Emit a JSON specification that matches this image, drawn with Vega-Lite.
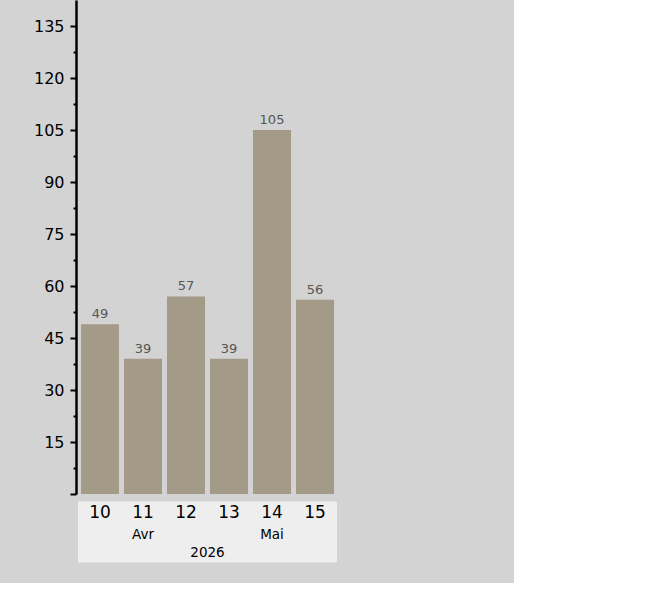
{
  "$schema": "https://vega.github.io/schema/vega-lite/v6.json",
  "background": "#d3d3d3",
  "padding": {"left": 33, "top": 0, "right": 175, "bottom": 20},
  "autosize": {"type": "pad"},
  "spacing": 6,
  "data": {
    "values": [
      {"day": "10", "month": "", "year": "2026", "count": 49},
      {"day": "11", "month": "Avr", "year": "2026", "count": 39},
      {"day": "12", "month": "", "year": "2026", "count": 57},
      {"day": "13", "month": "", "year": "2026", "count": 39},
      {"day": "14", "month": "Mai", "year": "2026", "count": 105},
      {"day": "15", "month": "", "year": "2026", "count": 56}
    ]
  },
  "vconcat": [
    {
      "width": 263,
      "height": 494,
      "encoding": {
        "x": {
          "field": "day",
          "type": "nominal",
          "scale": {"paddingInner": 0.116, "paddingOuter": 0.116},
          "axis": null
        },
        "y": {
          "field": "count",
          "type": "quantitative",
          "scale": {"domain": [0, 142.5], "nice": false},
          "axis": {
            "title": null,
            "grid": false,
            "values": [0, 7.5, 15, 22.5, 30, 37.5, 45, 52.5, 60, 67.5, 75, 82.5, 90, 97.5, 105, 112.5, 120, 127.5, 135],
            "labelExpr": "datum.value % 15 === 0 && datum.value > 0 ? datum.label : ''",
            "tickSize": {"condition": {"test": "datum.value % 15 === 0", "value": 6}, "value": 3},
            "tickWidth": 2,
            "tickColor": "#000000",
            "domainColor": "#000000",
            "domainWidth": 2.5,
            "labelFont": "DejaVu Sans",
            "labelFontSize": 16,
            "labelColor": "#000000",
            "labelPadding": 6
          }
        }
      },
      "layer": [
        {"mark": {"type": "bar", "color": "#a39a87"}},
        {
          "mark": {"type": "text", "baseline": "bottom", "dy": -3, "font": "DejaVu Sans", "fontSize": 13, "color": "#555555"},
          "encoding": {"text": {"field": "count", "type": "quantitative"}}
        }
      ]
    },
    {
      "width": 263,
      "height": 60,
      "encoding": {
        "x": {
          "field": "day",
          "type": "nominal",
          "scale": {"paddingInner": 0, "paddingOuter": 0.058},
          "axis": null
        }
      },
      "layer": [
        {"mark": {"type": "bar", "color": "#eeeeee", "stroke": "#eeeeee", "strokeWidth": 1}},
        {
          "mark": {"type": "text", "baseline": "middle", "dy": -19, "font": "DejaVu Sans", "fontSize": 17, "color": "#000000"},
          "encoding": {"text": {"field": "day", "type": "nominal"}}
        },
        {
          "transform": [{"filter": "datum.month !== ''"}],
          "mark": {"type": "text", "baseline": "middle", "dy": 3, "font": "DejaVu Sans", "fontSize": 13.5, "color": "#000000"},
          "encoding": {"text": {"field": "month", "type": "nominal"}}
        },
        {
          "transform": [{"aggregate": [{"op": "max", "field": "year", "as": "year"}]}],
          "mark": {"type": "text", "baseline": "middle", "dy": 21, "font": "DejaVu Sans", "fontSize": 13.5, "color": "#000000"},
          "encoding": {"x": {"value": {"expr": "width / 2"}}, "text": {"field": "year", "type": "nominal"}}
        }
      ],
      "resolve": {"scale": {"x": "shared"}}
    }
  ],
  "resolve": {"scale": {"x": "independent"}},
  "config": {"view": {"stroke": null}}
}
